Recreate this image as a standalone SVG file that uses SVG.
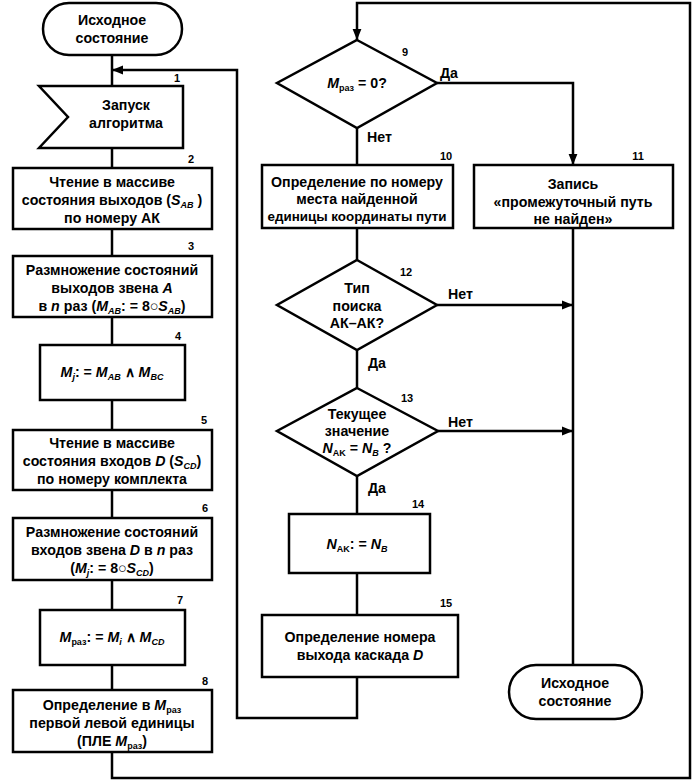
<svg xmlns="http://www.w3.org/2000/svg" width="695" height="783" viewBox="0 0 695 783">
<defs>
<marker id="ar" viewBox="0 0 10 10" refX="10" refY="5" markerWidth="4.5" markerHeight="4.5" orient="auto" markerUnits="strokeWidth">
<path d="M0,1 L10,5 L0,9 Z" fill="#000"/>
</marker>
<style>
.n{fill:#fff;stroke:#000;stroke-width:2.5}
.c{fill:none;stroke:#000;stroke-width:2.5}
text{font-family:"Liberation Sans",Arial,sans-serif;font-size:14.2px;font-weight:bold;fill:#000;text-anchor:middle}
.num{font-size:11px}
.lb{text-anchor:start}
.i{font-style:italic}
.s{font-size:9px}
.sm{font-size:13.4px}
</style>
</defs>
<rect width="695" height="783" fill="#fff"/>
<g id="connectors">
<path class="c" d="M112,55 V86"/>
<path class="c" d="M112,148 V168"/>
<path class="c" d="M112,229 V256"/>
<path class="c" d="M112,317 V345"/>
<path class="c" d="M112,400 V430"/>
<path class="c" d="M112,490 V518"/>
<path class="c" d="M112,580 V610"/>
<path class="c" d="M112,665 V690"/>
<path class="c" d="M112,752 V778 H690 V3 H357 V40" marker-end="url(#ar)"/>
<path class="c" d="M357,677 V718 H237 V70 H112" marker-end="url(#ar)"/>
<path class="c" d="M357,128 V165"/>
<path class="c" d="M357,228 V260"/>
<path class="c" d="M357,350 V388"/>
<path class="c" d="M357,476 V514"/>
<path class="c" d="M357,573 V615"/>
<path class="c" d="M437,83 H573 V165" marker-end="url(#ar)"/>
<path class="c" d="M437,305 H573" marker-end="url(#ar)"/>
<path class="c" d="M438,431 H573" marker-end="url(#ar)"/>
<path class="c" d="M573,228 V665"/>
<text class="lb" x="440" y="78">Да</text>
<text class="lb" x="367" y="142">Нет</text>
<text class="lb" x="448" y="299">Нет</text>
<text class="lb" x="368" y="368">Да</text>
<text class="lb" x="448" y="427">Нет</text>
<text class="lb" x="368" y="493">Да</text>
</g>
<g id="n0">
<rect class="n" x="43" y="3" width="139" height="52" rx="26"/>
<text x="112" y="25">Исходное</text>
<text x="112" y="43">состояние</text>
</g>
<g id="n1">
<path class="n" d="M39,86 H183 V148 H39 L68,117 Z"/>
<text x="126" y="110">Запуск</text>
<text x="126" y="128">алгоритма</text>
<text class="num" x="177" y="82">1</text>
</g>
<g id="n2">
<rect class="n" x="13" y="168" width="199" height="61"/>
<text x="112" y="187">Чтение в массиве</text>
<text x="112" y="205">состояния выходов (<tspan class="i">S</tspan><tspan class="s i" dy="3">AB</tspan><tspan dy="-3"> )</tspan></text>
<text x="112" y="223">по номеру АК</text>
<text class="num" x="191" y="163">2</text>
</g>
<g id="n3">
<rect class="n" x="13" y="256" width="199" height="61"/>
<text x="112" y="275">Размножение состояний</text>
<text x="112" y="293">выходов звена <tspan class="i">A</tspan></text>
<text x="112" y="311">в <tspan class="i">n</tspan> раз (<tspan class="i">M</tspan><tspan class="s i" dy="3">AB</tspan><tspan dy="-3">: = 8○</tspan><tspan class="i">S</tspan><tspan class="s i" dy="3">AB</tspan><tspan dy="-3">)</tspan></text>
<text class="num" x="191" y="250">3</text>
</g>
<g id="n4">
<rect class="n" x="40" y="345" width="145" height="55"/>
<text x="112" y="377"><tspan class="i">M</tspan><tspan class="s i" dy="3">j</tspan><tspan dy="-3">: = </tspan><tspan class="i">M</tspan><tspan class="s i" dy="3">AB</tspan><tspan dy="-3"> ∧ </tspan><tspan class="i">M</tspan><tspan class="s i" dy="3">BC</tspan></text>
<text class="num" x="178" y="340">4</text>
</g>
<g id="n5">
<rect class="n" x="13" y="430" width="199" height="60"/>
<text x="112" y="448">Чтение в массиве</text>
<text x="112" y="466">состояния входов <tspan class="i">D</tspan> (<tspan class="i">S</tspan><tspan class="s i" dy="3">CD</tspan><tspan dy="-3">)</tspan></text>
<text x="112" y="484">по номеру комплекта</text>
<text class="num" x="204" y="424">5</text>
</g>
<g id="n6">
<rect class="n" x="13" y="518" width="199" height="62"/>
<text x="112" y="537">Размножение состояний</text>
<text x="112" y="555">входов звена <tspan class="i">D</tspan> в <tspan class="i">n</tspan> раз</text>
<text x="112" y="573">(<tspan class="i">M</tspan><tspan class="s i" dy="3">j</tspan><tspan dy="-3">: = 8○</tspan><tspan class="i">S</tspan><tspan class="s i" dy="3">CD</tspan><tspan dy="-3">)</tspan></text>
<text class="num" x="205" y="512">6</text>
</g>
<g id="n7">
<rect class="n" x="40" y="610" width="145" height="55"/>
<text x="112" y="642"><tspan class="i">M</tspan><tspan class="s" dy="3">раз</tspan><tspan dy="-3">: = </tspan><tspan class="i">M</tspan><tspan class="s i" dy="3">i</tspan><tspan dy="-3"> ∧ </tspan><tspan class="i">M</tspan><tspan class="s i" dy="3">CD</tspan></text>
<text class="num" x="180" y="604">7</text>
</g>
<g id="n8">
<rect class="n" x="13" y="690" width="199" height="62"/>
<text x="112" y="710">Определение в <tspan class="i">M</tspan><tspan class="s" dy="3">раз</tspan></text>
<text x="112" y="728">первой левой единицы</text>
<text x="112" y="746">(ПЛЕ <tspan class="i">M</tspan><tspan class="s" dy="3">раз</tspan><tspan dy="-3">)</tspan></text>
<text class="num" x="205" y="685">8</text>
</g>
<g id="n9">
<path class="n" d="M357,40 L437,83 L357,128 L277,83 Z"/>
<text x="357" y="88"><tspan class="i">M</tspan><tspan class="s" dy="3">раз</tspan><tspan dy="-3"> = 0?</tspan></text>
<text class="num" x="405" y="56">9</text>
</g>
<g id="n10">
<rect class="n" x="262" y="165" width="191" height="63"/>
<text x="357" y="187">Определение по номеру</text>
<text x="357" y="204">места найденной</text>
<text class="sm" x="357" y="221">единицы координаты пути</text>
<text class="num" x="446" y="160">10</text>
</g>
<g id="n11">
<rect class="n" x="474" y="165" width="199" height="63"/>
<text x="573" y="189">Запись</text>
<text x="573" y="207">«промежуточный путь</text>
<text x="573" y="224">не найден»</text>
<text class="num" x="638" y="160">11</text>
</g>
<g id="n12">
<path class="n" d="M357,260 L437,305 L357,350 L277,305 Z"/>
<text x="357" y="293">Тип</text>
<text x="357" y="311">поиска</text>
<text x="357" y="328">АК–АК?</text>
<text class="num" x="406" y="276">12</text>
</g>
<g id="n13">
<path class="n" d="M357,388 L438,431 L357,476 L277,431 Z"/>
<text x="357" y="419">Текущее</text>
<text x="357" y="436">значение</text>
<text x="357" y="453"><tspan class="i">N</tspan><tspan class="s" dy="3">AK</tspan><tspan dy="-3"> = </tspan><tspan class="i">N</tspan><tspan class="s i" dy="3">B</tspan><tspan dy="-3"> ?</tspan></text>
<text class="num" x="407" y="402">13</text>
</g>
<g id="n14">
<rect class="n" x="289" y="514" width="141" height="59"/>
<text x="357" y="549"><tspan class="i">N</tspan><tspan class="s" dy="3">AK</tspan><tspan dy="-3">: = </tspan><tspan class="i">N</tspan><tspan class="s i" dy="3">B</tspan></text>
<text class="num" x="418" y="508">14</text>
</g>
<g id="n15">
<rect class="n" x="262" y="615" width="196" height="62"/>
<text x="360" y="642">Определение номера</text>
<text x="360" y="660">выхода каскада <tspan class="i">D</tspan></text>
<text class="num" x="446" y="607">15</text>
</g>
<g id="n16">
<rect class="n" x="509" y="665" width="133" height="54" rx="27"/>
<text x="575" y="688">Исходное</text>
<text x="575" y="706">состояние</text>
</g>
</svg>
